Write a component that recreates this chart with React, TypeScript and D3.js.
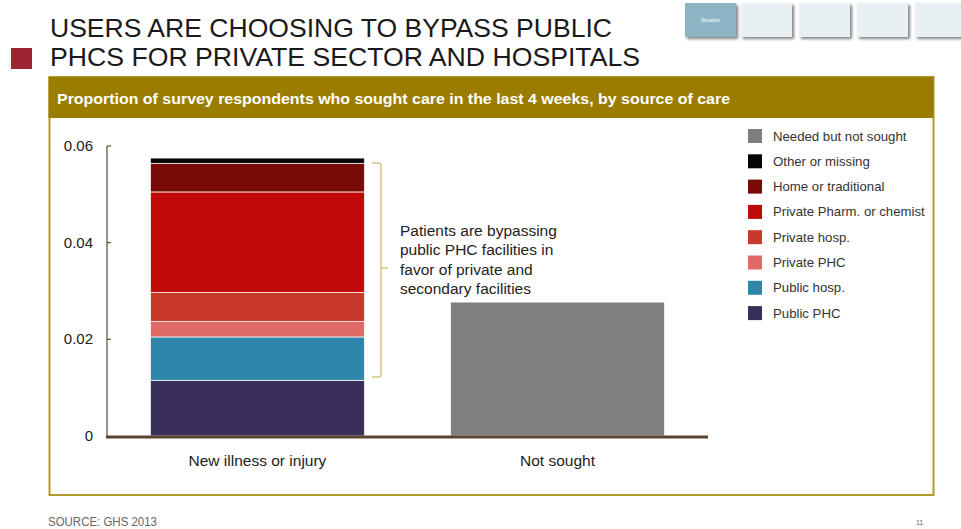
import React from "react";
import * as d3 from "d3";

const categories = ["New illness or injury", "Not sought"];
const seriesNames = [
  "Public PHC",
  "Public hosp.",
  "Private PHC",
  "Private hosp.",
  "Private Pharm. or chemist",
  "Home or traditional",
  "Other or missing",
  "Needed but not sought",
];
const seriesColors = [
  "#3a2f5a",
  "#2e86ab",
  "#e06a66",
  "#c8392c",
  "#c00a0a",
  "#7a0a05",
  "#050505",
  "#7f7f7f",
];
// values per series: [New illness or injury, Not sought]
const publicPHC = [0.0115, 0];
const publicHosp = [0.009, 0];
const privatePHC = [0.0032, 0];
const privateHosp = [0.006, 0];
const privatePharm = [0.0208, 0];
const homeTrad = [0.0059, 0];
const otherMissing = [0.0011, 0];
const neededNotSought = [0, 0.0277];
const yTicks = [0, 0.02, 0.04, 0.06];
const tickLabels = ["0", "0.02", "0.04", "0.06"];

const titleLines = [
  "USERS ARE CHOOSING TO BYPASS PUBLIC",
  "PHCS FOR PRIVATE SECTOR AND HOSPITALS",
];
const headerText =
  "Proportion of survey respondents who sought care in the last 4 weeks, by source of care";
const annotationLines = [
  "Patients are bypassing",
  "public PHC facilities in",
  "favor of private and",
  "secondary facilities",
];

const FONT = "'Liberation Sans', Arial, Helvetica, sans-serif";

export default function App() {
  const W = 961;
  const H = 529;
  const allSeries = [
    publicPHC,
    publicHosp,
    privatePHC,
    privateHosp,
    privatePharm,
    homeTrad,
    otherMissing,
    neededNotSought,
  ];
  const table = categories.map((c, i) => {
    const row: any = { category: c };
    seriesNames.forEach((s, j) => (row[s] = allSeries[j][i]));
    return row;
  });
  const stacked = d3.stack().keys(seriesNames)(table);

  const x = d3
    .scaleBand()
    .domain(categories)
    .range([107, 708])
    .paddingInner(0.287)
    .paddingOuter(0.145);
  const y = d3.scaleLinear().domain([0, 0.06]).range([436, 146]);

  const legendItems = seriesNames
    .map((s, i) => ({ name: s, color: seriesColors[i] }))
    .reverse();

  const navBoxes = [
    { x: 685, w: 51, fill: "#8bb4c4", label: "Situation" },
    { x: 741, w: 51, fill: "#e8f0f3", label: "" },
    { x: 799, w: 51, fill: "#e8f0f3", label: "" },
    { x: 857, w: 51, fill: "#e8f0f3", label: "" },
    { x: 915, w: 51, fill: "#e8f0f3", label: "" },
  ];

  const bracketX = 381;
  const bTop = 163;
  const bBot = 377;
  const bMid = 268;

  return (
    <svg
      width={W}
      height={H}
      style={{ position: "absolute", left: 0, top: 0, background: "#fff" }}
      fontFamily={FONT}
    >
      <defs>
        <filter id="shadow" x="-20%" y="-20%" width="150%" height="150%">
          <feGaussianBlur in="SourceAlpha" stdDeviation="1.5" />
          <feOffset dx="2" dy="2" result="ob" />
          <feComponentTransfer>
            <feFuncA type="linear" slope="0.5" />
          </feComponentTransfer>
          <feMerge>
            <feMergeNode />
            <feMergeNode in="SourceGraphic" />
          </feMerge>
        </filter>
      </defs>
      <rect x={0} y={0} width={W} height={H} fill="#fff" />

      {/* nav boxes */}
      {navBoxes.map((b, i) => (
        <g key={i}>
          <rect x={b.x} y={3} width={b.w} height={34} fill={b.fill} filter="url(#shadow)" />
          {b.label && (
            <text x={b.x + b.w / 2} y={22} fontSize={5} fill="#fff" textAnchor="middle">
              {b.label}
            </text>
          )}
        </g>
      ))}

      {/* title */}
      <rect x={11} y={48} width={21} height={21} fill="#9e2431" />
      <text x={50} y={37} fontSize={25} fill="#1a1a1a" textLength={562} lengthAdjust="spacingAndGlyphs">
        {titleLines[0]}
      </text>
      <text x={50} y={66} fontSize={25} fill="#1a1a1a" textLength={590} lengthAdjust="spacingAndGlyphs">
        {titleLines[1]}
      </text>

      {/* box */}
      <rect x={49.5} y={77} width={884} height={418} fill="none" stroke="#b39b2c" strokeWidth={2} />
      <rect x={48.5} y={77} width={885} height={41} fill="#9a7d00" />
      <text x={57} y={104} fontSize={14} fontWeight="bold" fill="#fff" textLength={673} lengthAdjust="spacingAndGlyphs">
        {headerText}
      </text>

      {/* bars */}
      {stacked.map((layer, li) => (
        <g key={seriesNames[li]} fill={seriesColors[li]}>
          {layer.map((d: any, i: number) => {
            const h = y(d[0]) - y(d[1]);
            if (h <= 0) return null;
            return (
              <rect
                key={i}
                x={x(categories[i])!}
                y={y(d[1])}
                width={x.bandwidth()}
                height={h}
                stroke="#fff"
                strokeOpacity={0.7}
                strokeWidth={1}
              />
            );
          })}
        </g>
      ))}

      {/* y axis */}
      <line x1={107} x2={107} y1={y(0.06)} y2={y(0)} stroke="#5c4a2e" strokeWidth={1.2} />
      {yTicks.map((t, i) => (
        <g key={t}>
          {t > 0 && <line x1={107} x2={111} y1={y(t)} y2={y(t)} stroke="#5c4a2e" strokeWidth={1.2} />}
          <text x={93} y={y(t) + 5} fontSize={15} fill="#222" textAnchor="end">
            {tickLabels[i]}
          </text>
        </g>
      ))}
      {/* baseline */}
      <line x1={106} x2={708} y1={y(0) + 1} y2={y(0) + 1} stroke="#5a4630" strokeWidth={3} />

      {/* category labels */}
      {categories.map((c) => (
        <text
          key={c}
          x={x(c)! + x.bandwidth() / 2}
          y={466}
          fontSize={15.5}
          fill="#222"
          textAnchor="middle"
        >
          {c}
        </text>
      ))}

      {/* bracket */}
      <path
        d={`M${bracketX - 9},${bTop} L${bracketX - 3},${bTop} Q${bracketX},${bTop} ${bracketX},${bTop + 3} L${bracketX},${bBot - 3} Q${bracketX},${bBot} ${bracketX - 3},${bBot} L${bracketX - 9},${bBot} M${bracketX},${bMid} L${bracketX + 7},${bMid}`}
        fill="none"
        stroke="#d2c37e"
        strokeWidth={1.5}
      />
      {annotationLines.map((l, i) => (
        <text key={i} x={400} y={236 + i * 19.3} fontSize={15.5} fill="#222">
          {l}
        </text>
      ))}

      {/* legend */}
      {legendItems.map((it, i) => (
        <g key={it.name} transform={`translate(748, ${136 + i * 25.3})`}>
          <rect x={0} y={-7} width={14} height={14} fill={it.color} />
          <text x={25} y={4.5} fontSize={13.2} fill="#333">
            {it.name}
          </text>
        </g>
      ))}

      {/* footer */}
      <text x={48} y={526} fontSize={12} fill="#666" textLength={109} lengthAdjust="spacingAndGlyphs">
        SOURCE: GHS 2013
      </text>
      <text x={916} y={525} fontSize={7} fill="#666">
        11
      </text>
    </svg>
  );
}
